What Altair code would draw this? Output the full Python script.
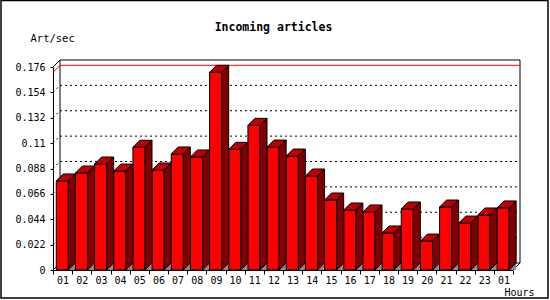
import altair as alt
import pandas as pd

# ---------------- data ----------------
HOURS = ["01", "02", "03", "04", "05", "06", "07", "08", "09", "10", "11", "12",
         "13", "14", "15", "16", "17", "18", "19", "20", "21", "22", "23", "01"]
VALUES = [0.0772, 0.0841, 0.0919, 0.0858, 0.1064, 0.0867, 0.1006, 0.0980,
          0.1714, 0.1046, 0.1254, 0.1066, 0.0988, 0.0815, 0.0607, 0.0520,
          0.0503, 0.0321, 0.0529, 0.0251, 0.0546, 0.0407, 0.0477, 0.0538]
Y_TICKS = [0, 0.022, 0.044, 0.066, 0.088, 0.11, 0.132, 0.154, 0.176]
GRID_LEVELS = [0.022, 0.044, 0.066, 0.088, 0.11, 0.132, 0.154]
TITLE = "Incoming articles"
Y_TITLE = "Art/sec"
X_TITLE = "Hours"

# ---------------- geometry / style ----------------
N = len(HOURS)
Y_MAX = Y_TICKS[-1]
W, H = 460, 203
DEPTH = 7                       # 3-D depth in pixels
DX = DEPTH * N / W              # depth in x data units
DY = DEPTH * Y_MAX / H          # depth in y data units
BAR_L, BAR_R = 0.17, 0.80       # front face inside each hour slot
MONO = "DejaVu Sans Mono"
FRONT, TOP, SIDE, FLOOR = "#ff0000", "#c00000", "#800000", "#8c8c8c"

xs = alt.Scale(domain=[0, N], nice=False, zero=False)
ys = alt.Scale(domain=[0, Y_MAX], nice=False, zero=False)

label_js = "[" + ",".join("'%s'" % h for h in HOURS) + "]"
AX_X = alt.Axis(values=list(range(N + 1)),
                labelExpr="datum.value < %d ? %s[datum.value] : ''" % (N, label_js),
                labelOffset=W / N / 2, labelFlush=False,
                labelOverlap=False, labelBound=False,
                labelFont=MONO, labelFontSize=10, labelColor="black",
                labelPadding=1, tickSize=4, tickColor="black",
                domainColor="black", grid=False,
                title=X_TITLE, titleFont=MONO, titleFontSize=10,
                titleFontWeight="normal", titleColor="black",
                titleX=451, titleY=25, titleAlign="left",
                titleBaseline="alphabetic", titleAngle=0)
AX_Y = alt.Axis(values=Y_TICKS, labelExpr="format(datum.value, '.3~f')",
                labelFont=MONO,
                labelFontSize=10, labelColor="black",
                labelPadding=5, tickSize=3, tickColor="black",
                domainColor="black", grid=False,
                title=Y_TITLE, titleFont=MONO, titleFontSize=10.5,
                titleFontWeight="normal", titleColor="black",
                titleAngle=0, titleX=-23, titleY=-26,
                titleAlign="left", titleBaseline="alphabetic")

# ---------------- tables ----------------
bars = pd.DataFrame({
    "bar": range(N),
    "x0": [i + BAR_L for i in range(N)],
    "x1": [i + BAR_R for i in range(N)],
    "v": VALUES,
    "base": [0.0] * N,
})

top_rows, side_rows, floor_rows = [], [], []
for i, v in enumerate(VALUES):
    x0, x1 = i + BAR_L, i + BAR_R
    top_rows += [{"bar": i, "y": v, "xa": x0, "xb": x1},
                 {"bar": i, "y": v + DY, "xa": x0 + DX, "xb": x1 + DX}]
    side_rows += [{"bar": i, "x": x1, "ya": 0.0, "yb": v},
                  {"bar": i, "x": x1 + DX, "ya": DY, "yb": v + DY}]
    floor_rows += [{"bar": i, "x": x1, "ya": 0.0, "yb": 0.0},
                   {"bar": i, "x": x1 + DX, "ya": 0.0, "yb": DY}]
tops = pd.DataFrame(top_rows)
sides = pd.DataFrame(side_rows)
floors = pd.DataFrame(floor_rows)

grid_back = pd.DataFrame({"xa": [DX] * len(GRID_LEVELS),
                          "xb": [N + DX] * len(GRID_LEVELS),
                          "y": [g + DY for g in GRID_LEVELS]})
grid_left = pd.DataFrame({"xa": [0.0] * len(GRID_LEVELS),
                          "xb": [DX] * len(GRID_LEVELS),
                          "ya": GRID_LEVELS,
                          "yb": [g + DY for g in GRID_LEVELS]})
vmax = max(VALUES)
red_lines = pd.DataFrame({"xa": [0.0, DX], "xb": [DX, N + DX],
                          "ya": [vmax, vmax + DY], "yb": [vmax + DY, vmax + DY]})
wall = pd.DataFrame({"xa": [DX], "xb": [N + DX], "ya": [DY], "yb": [Y_MAX + DY]})
diags = pd.DataFrame({"xa": [0.0, 0.0, N], "xb": [DX, DX, N + DX],
                      "ya": [Y_MAX, 0.0, 0.0], "yb": [Y_MAX + DY, DY, DY]})
one = pd.DataFrame({"k": [0]})


def X(field):
    return alt.X(field, type="quantitative", scale=xs, axis=AX_X)


def Y(field):
    return alt.Y(field, type="quantitative", scale=ys, axis=AX_Y)


# ---------------- layers ----------------
front_l = alt.Chart(bars).mark_rect(fill=FRONT, stroke="black",
                                    strokeWidth=1).encode(
    x=X("x0"), x2="x1", y=Y("v"), y2="base")

back_wall = alt.Chart(wall).mark_rect(fill="white", stroke="black",
                                      strokeWidth=1).encode(
    x=X("xa"), x2="xb", y=Y("ya"), y2="yb")

g_back = alt.Chart(grid_back).mark_rule(color="black", strokeWidth=1,
                                        strokeDash=[2, 3]).encode(
    x=X("xa"), x2="xb", y=Y("y"))
g_left = alt.Chart(grid_left).mark_rule(color="black", strokeWidth=1,
                                        strokeDash=[2, 3]).encode(
    x=X("xa"), x2="xb", y=Y("ya"), y2="yb")

frame_d = alt.Chart(diags).mark_rule(color="black", strokeWidth=1).encode(
    x=X("xa"), x2="xb", y=Y("ya"), y2="yb")

red = alt.Chart(red_lines).mark_rule(color="#ff0000", strokeWidth=1).encode(
    x=X("xa"), x2="xb", y=Y("ya"), y2="yb")

floor_l = alt.Chart(floors).mark_area(orient="vertical", fill=FLOOR).encode(
    x=X("x"), y=Y("ya"), y2="yb", detail="bar:N")

top_l = alt.Chart(tops).mark_area(orient="horizontal", fill=TOP, stroke="black",
                                  strokeWidth=1).encode(
    y=Y("y"), x=X("xa"), x2="xb", detail="bar:N")

side_l = alt.Chart(sides).mark_area(orient="vertical", fill=SIDE, stroke="black",
                                    strokeWidth=1).encode(
    x=X("x"), y=Y("ya"), y2="yb", detail="bar:N")

border = alt.Chart(one).mark_rect(fill="white", fillOpacity=0, stroke="black",
                                  strokeWidth=1.5).encode(
    x=alt.value(-52), x2=alt.value(495), y=alt.value(-66.5), y2=alt.value(231))

title = alt.Chart(one).mark_text(text=TITLE, font=MONO, fontSize=11.5,
                                 fontWeight="bold", align="center",
                                 baseline="alphabetic", color="black").encode(
    x=alt.value(220.5), y=alt.value(-36))

chart = alt.layer(
    back_wall, g_back, g_left, frame_d, red,
    floor_l, front_l, top_l, side_l, border, title
).properties(
    width=W, height=H,
    padding={"left": 53, "top": 67, "right": 550 - 53 - W, "bottom": 300 - 67 - H},
    autosize=alt.AutoSizeParams(type="none"),
    background="white",
).configure_view(stroke=None)

chart.save("out.html", embed_options={"renderer": "svg", "actions": False})
